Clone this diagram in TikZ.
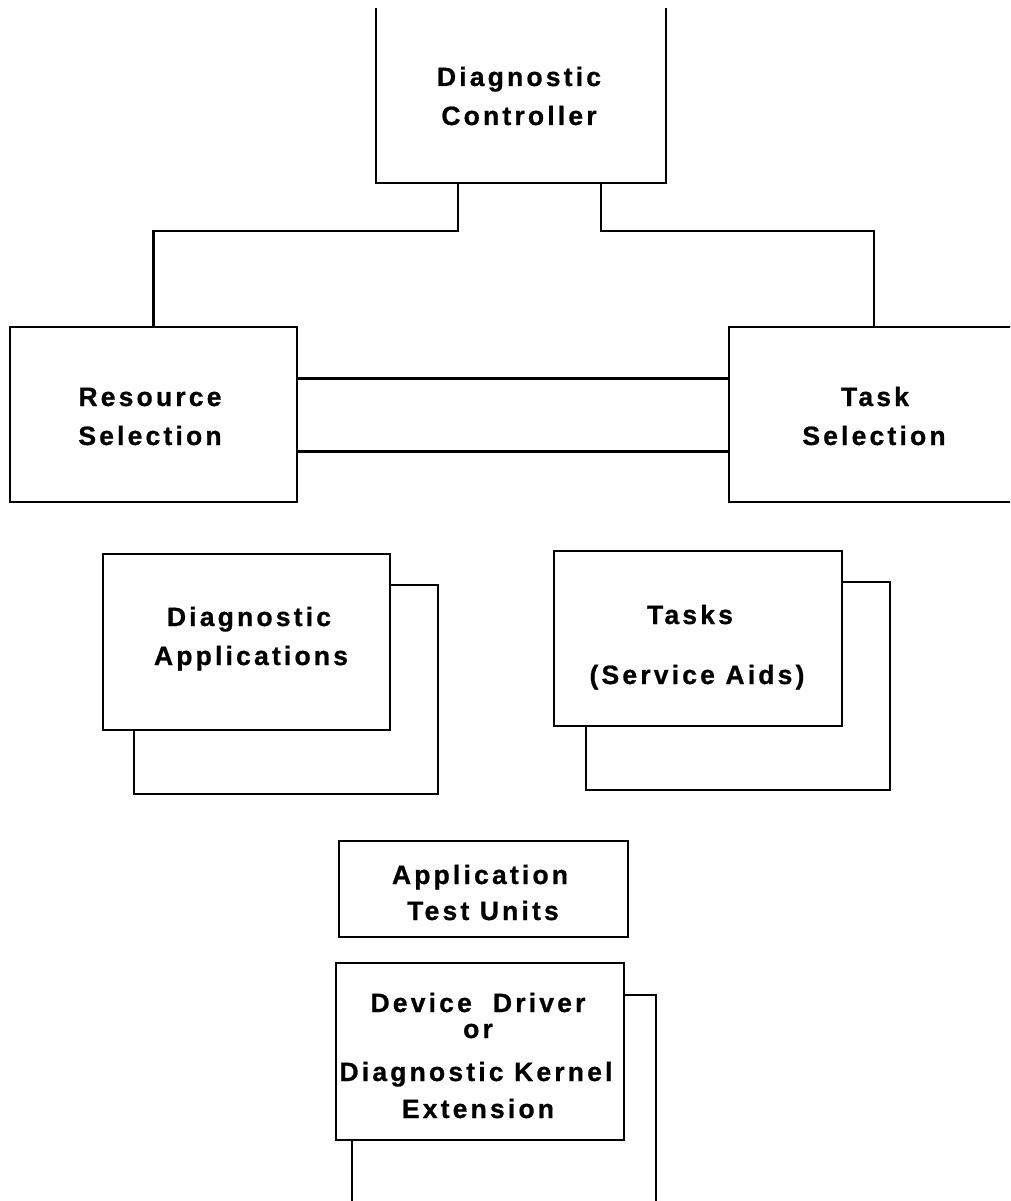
\documentclass[tikz,border=0pt]{standalone}
\usepackage{fontspec}
\setmainfont{Liberation Sans}[LetterSpace=12,BoldFeatures={FakeBold=0.8}]
\usetikzlibrary{fit}
\begin{document}
\begin{tikzpicture}[x=1pt,y=-1pt,
  box/.style={draw, line width=2.4pt, fill=white, inner sep=0pt, rectangle},
  backbox/.style={draw, line width=2pt, fill=white, inner sep=0pt, rectangle},
  lbl/.style={anchor=base, inner sep=0pt, font=\fontsize{26.5}{26.5}\selectfont\bfseries},
  link/.style={line width=2.4pt},
  dbl/.style={line width=3pt}]
\useasboundingbox (0,0) rectangle (1010,1201);
\clip (0,0) rectangle (1010,1201);

% Diagnostic Controller (top open)
\node[box, draw=none, fit={(377,9) (665,182)}] (ctrl) {};
\draw[link] (ctrl.north west) -- (ctrl.south west) -- (ctrl.south east) -- (ctrl.north east);
\node[lbl] (t1) at (519,86) {Diagnostic};
\node[lbl] (t2) at (519,125) {Controller};

% Resource / Task selection
\node[box, fit={(10,327) (297,502)}] (res) {};
\node[lbl] (t3) at (150,406) {Resource};
\node[lbl] (t4) at (150,445) {Selection};
\node[box, fit={(729,327) (1019,502)}] (task) {};
\node[lbl] (t5) at (875,406) {Task};
\node[lbl] (t6) at (874,445) {Selection};

% connectors
\draw[link] ([xshift=-63pt]ctrl.south) -- ++(0,48) -| (res.north);
\draw[link] ([xshift=80pt]ctrl.south) -- ++(0,48) -| (task.north);
\draw[dbl] ([yshift=36.5pt]res.east) -- ([yshift=36.5pt]task.west);
\draw[dbl] ([yshift=-36.5pt]res.east) -- ([yshift=-36.5pt]task.west);

% Diagnostic Applications
\node[backbox, fit={(134,585) (438,794)}] (dab) {};
\node[box, fit={(103,554) (390,730)}] (da) {};
\node[lbl] (t7) at (249,626) {Diagnostic};
\node[lbl] (t8) at (251,665) {Applications};

% Tasks
\node[backbox, fit={(586,582) (890,790)}] (tkb) {};
\node[box, fit={(554,551) (842,726)}] (tk) {};
\node[lbl] (t9) at (690,624) {Tasks};
\node[lbl] (t10) at (697,684) {(Service Aids)};

% Application Test Units
\node[box, fit={(339,841) (628,937)}] (atu) {};
\node[lbl] (t11) at (480,884) {Application};
\node[lbl] (t12) at (483,920) {Test Units};

% Device Driver
\node[backbox, fit={(352,995) (656,1240)}] (ddb) {};
\node[box, fit={(336,963) (624,1140)}] (dd) {};
\node[lbl] (t13) at (478,1012) {Device\ \ Driver};
\node[lbl] (t14) at (478,1038) {or};
\node[lbl] (t15) at (476,1081) {Diagnostic Kernel};
\node[lbl] (t16) at (478,1118) {Extension};
\end{tikzpicture}
\end{document}
